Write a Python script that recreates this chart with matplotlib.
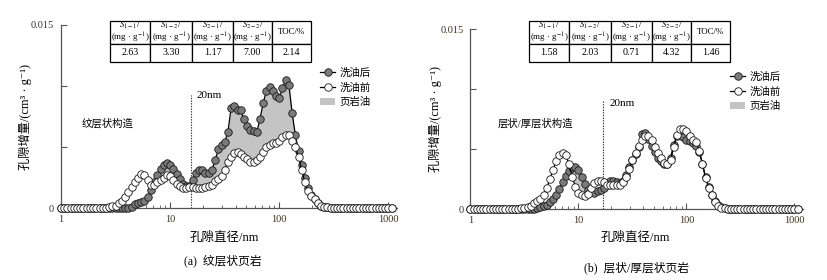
import matplotlib
matplotlib.use("Agg")
import matplotlib.pyplot as plt
import numpy as np
from matplotlib.lines import Line2D
from matplotlib.patches import Patch

plt.rcParams["font.family"] = ["Liberation Serif", "Noto Sans CJK SC", "DejaVu Serif"]
plt.rcParams["mathtext.fontset"] = "stix"

W, H = 828, 280

# pore diameters (nm), 34 steps per decade
MANTISSA = [1.000, 1.070, 1.145, 1.226, 1.312, 1.404, 1.502, 1.607, 1.720, 1.841,
            1.970, 2.108, 2.256, 2.414, 2.583, 2.765, 2.958, 3.162, 3.384, 3.621,
            3.875, 4.147, 4.437, 4.748, 5.081, 5.437, 5.818, 6.226, 6.662, 7.129,
            7.629, 8.163, 8.735, 9.348]
DIAMETER = [m * 10 ** e for e in range(3) for m in MANTISSA] + [1000.0, 1070.0]

# (a) laminated shale
A_BEFORE = [0] * 15 + [
    0.0001, 0.00015, 0.0002, 0.0004, 0.0006, 0.0009, 0.0013, 0.0017, 0.0021, 0.0025,
    0.0028, 0.0027, 0.0023, 0.0019, 0.0019, 0.0021, 0.0023, 0.0025, 0.0027, 0.0026,
    0.0023, 0.0020, 0.0018, 0.0016, 0.0016, 0.0017, 0.0017, 0.0016, 0.0016, 0.0016,
    0.0017, 0.0018, 0.0019, 0.0022, 0.0024, 0.0026, 0.0031, 0.0038, 0.0042, 0.0045,
    0.0046, 0.0044, 0.0042, 0.0040, 0.0038, 0.0038, 0.0039, 0.0042, 0.0046, 0.0050,
    0.0052, 0.0053, 0.0053, 0.0055, 0.0058, 0.0060, 0.0060, 0.0055, 0.0050, 0.0042,
    0.0031, 0.0021, 0.0014, 0.0010, 0.0007, 0.0004, 0.0002, 0.0001, 0.00005,
] + [0] * 20
A_AFTER = [0] * 22 + [
    0.0001, 0.0003, 0.0004, 0.0005, 0.0006, 0.0009, 0.0015, 0.0021, 0.0027, 0.0032,
    0.0035, 0.0037, 0.0035, 0.0032, 0.0028, 0.0024, 0.0020, 0.0018, 0.0018, 0.0023,
    0.0029, 0.0031, 0.0031, 0.0029, 0.0029, 0.0031, 0.0039, 0.0048, 0.0052, 0.0054,
    0.0062, 0.0082, 0.0084, 0.0080, 0.0080, 0.0073, 0.0067, 0.0064, 0.0063, 0.0062,
    0.0073, 0.0086, 0.0096, 0.0099, 0.0096, 0.0092, 0.0090, 0.0098, 0.0105, 0.0101,
    0.0078, 0.0060, 0.0047, 0.0035, 0.0025, 0.0016, 0.0011, 0.0007, 0.0004, 0.0002,
    0.0001, 0.00005,
] + [0] * 20

# (b) layered / thick-layered shale
B_BEFORE = [0] * 16 + [
    0.0001, 0.00015, 0.0002, 0.0003, 0.0005, 0.0007, 0.0009, 0.0012, 0.0018, 0.0025,
    0.0033, 0.0040, 0.0045, 0.0047, 0.0045, 0.0038, 0.0027, 0.0019, 0.0014, 0.0012,
    0.0011, 0.0013, 0.0018, 0.0022, 0.0024, 0.0024, 0.0023, 0.0020, 0.0020, 0.0020,
    0.0020, 0.0020, 0.0023, 0.0027, 0.0034, 0.0041, 0.0047, 0.0053, 0.0058, 0.0061,
    0.0061, 0.0058, 0.0052, 0.0047, 0.0043, 0.0039, 0.0038, 0.0041, 0.0052, 0.0062,
    0.0067, 0.0067, 0.0065, 0.0061, 0.0058, 0.0056, 0.0049, 0.0038, 0.0026, 0.0018,
    0.0012, 0.0006, 0.0003, 0.00015, 0.0001, 0.00005,
] + [0] * 22
B_AFTER = [0] * 21 + [
    0.0001, 0.0002, 0.0003, 0.0004, 0.0006, 0.0009, 0.0012, 0.0017, 0.0023, 0.0028,
    0.0032, 0.0035, 0.0035, 0.0033, 0.0027, 0.0021, 0.0016, 0.0015, 0.0014, 0.0015,
    0.0016, 0.0018, 0.0022, 0.0024, 0.0024, 0.0023, 0.0022, 0.0024, 0.0029, 0.0035,
    0.0041, 0.0046, 0.0052, 0.0063, 0.0064, 0.0059, 0.0053, 0.0048, 0.0043, 0.0040,
    0.0038, 0.0038, 0.0043, 0.0054, 0.0061, 0.0063, 0.0060, 0.0058, 0.0057, 0.0055,
    0.0053, 0.0048, 0.0038, 0.0027, 0.0019, 0.0012, 0.0007, 0.0004, 0.0002, 0.0001,
    0.00005,
] + [0] * 22

TABLE_HEAD = [r"$S_{1-1}$/", r"$S_{1-2}$/", r"$S_{2-1}$/", r"$S_{2-2}$/"]
UNIT = r"(mg · g$^{-1}$)"
A_TABLE = ["2.63", "3.30", "1.17", "7.00", "2.14"]
B_TABLE = ["1.58", "2.03", "0.71", "4.32", "1.46"]

YLABEL = "孔隙增量/(cm³ · g⁻¹)"
XLABEL = "孔隙直径/nm"
LEGEND = ["洗油后", "洗油前", "页岩油"]

PANELS = [
    dict(axes=(61, 25, 397, 208), after=A_AFTER, before=A_BEFORE, table=A_TABLE,
         table_box=(110, 21, 311, 62), legend_xy=(320, 68), struct="纹层状构造",
         struct_xy=(82, 124), cut=15.5, cut_top=0.0093, cut_xy=(197, 95),
         ylabel_x=25, xlabel_xy=(224, 238), caption="(a)  纹层状页岩", caption_xy=(223, 261)),
    dict(axes=(470.5, 29.3, 803, 209.3), after=B_AFTER, before=B_BEFORE, table=B_TABLE,
         table_box=(529, 21, 730, 62), legend_xy=(730, 72), struct="层状/厚层状构造",
         struct_xy=(498, 124), cut=17.0, cut_top=0.0091, cut_xy=(610, 104),
         ylabel_x=435, xlabel_xy=(635, 238), caption="(b)  层状/厚层状页岩", caption_xy=(637, 268)),
]

TICK_COLOR = "#3b3320"


def px_rect(x0, y0, x1, y1):
    return [x0 / W, 1 - y1 / H, (x1 - x0) / W, (y1 - y0) / H]


def fig_xy(x, y):
    return x / W, 1 - y / H


def draw_table(fig, box, values):
    tax = fig.add_axes(px_rect(*box))
    tax.axis("off")
    head = [f"{h}\n{UNIT}" for h in TABLE_HEAD] + ["TOC/%"]
    tbl = tax.table(cellText=[head, values], cellLoc="center", bbox=[0, 0, 1, 1],
                    colWidths=[40, 42, 41, 39, 39])
    tbl.auto_set_font_size(False)
    for (r, c), cell in tbl.get_celld().items():
        cell.set_height(0.55 if r == 0 else 0.45)
        cell.set_linewidth(0.9)
        cell.PAD = 0.02
        cell.get_text().set_fontsize(6.4 if r == 0 else 7.2)
        if r == 0:
            cell.get_text().set_linespacing(1.0)


def draw_panel(fig, p):
    ax = fig.add_axes(px_rect(*p["axes"]))
    x = np.array(DIAMETER)
    a = np.array(p["after"])
    b = np.array(p["before"])
    ax.fill_between(x, b, a, where=a > b, interpolate=True, color="#c4c4c4", lw=0, zorder=1)
    ax.plot(x, a, "-o", color="black", lw=0.9, ms=5.4, mfc="#7a7a7a", mec="#1a1a1a",
            mew=0.6, clip_on=False, zorder=3)
    ax.plot(x, b, "-o", color="black", lw=0.9, ms=5.4, mfc="white", mec="#1a1a1a",
            mew=0.6, clip_on=False, zorder=4)
    ax.plot([p["cut"], p["cut"]], [0, p["cut_top"]], ls=(0, (1.2, 1.2)), color="#333333",
            lw=0.8, zorder=2)

    ax.set_xscale("log")
    ax.set_xlim(1, 1200)
    ax.set_ylim(0, 0.015)
    ax.set_xticks([1, 10, 100, 1000])
    ax.set_xticklabels(["1", "10", "100", "1000"])
    ax.set_yticks([0, 0.005, 0.01, 0.015])
    ax.set_yticklabels(["0", "", "", "0.015"])
    for s in ("top", "right"):
        ax.spines[s].set_visible(False)
    for s in ("left", "bottom"):
        ax.spines[s].set_color("#555555")
        ax.spines[s].set_linewidth(0.9)
    ax.tick_params(which="major", direction="in", length=4, width=0.8, colors="#555555",
                   labelcolor=TICK_COLOR, labelsize=7.5, pad=5)
    ax.tick_params(which="minor", direction="in", length=2.5, width=0.6, colors="#555555")

    handles = [
        Line2D([], [], color="black", lw=0.9, marker="o", ms=5.4, mfc="#7a7a7a", mec="#1a1a1a", mew=0.6),
        Line2D([], [], color="black", lw=0.9, marker="o", ms=5.4, mfc="white", mec="#1a1a1a", mew=0.6),
        Patch(facecolor="#c4c4c4", edgecolor="none"),
    ]
    fig.legend(handles, LEGEND, loc="upper left", bbox_to_anchor=fig_xy(*p["legend_xy"]),
               frameon=False, fontsize=7.5, handlelength=1.45, handletextpad=0.45,
               labelspacing=0.42, borderpad=0, borderaxespad=0)

    fig.text(*fig_xy(*p["struct_xy"]), p["struct"], fontsize=7.5, ha="left", va="center")
    fig.text(*fig_xy(*p["cut_xy"]), "20nm", fontsize=8, ha="left", va="center")
    fig.text(*fig_xy(p["ylabel_x"], (p["axes"][1] + p["axes"][3]) / 2), YLABEL,
             rotation=90, fontsize=8.8, ha="center", va="center")
    fig.text(*fig_xy(*p["xlabel_xy"]), XLABEL, fontsize=9, ha="center", va="center")
    fig.text(*fig_xy(*p["caption_xy"]), p["caption"], fontsize=8.5, ha="center", va="center")

    draw_table(fig, p["table_box"], p["table"])


def main():
    fig = plt.figure(figsize=(W / 100, H / 100), dpi=100)
    for p in PANELS:
        draw_panel(fig, p)
    fig.savefig("out.png", dpi=100)


if __name__ == "__main__":
    main()
